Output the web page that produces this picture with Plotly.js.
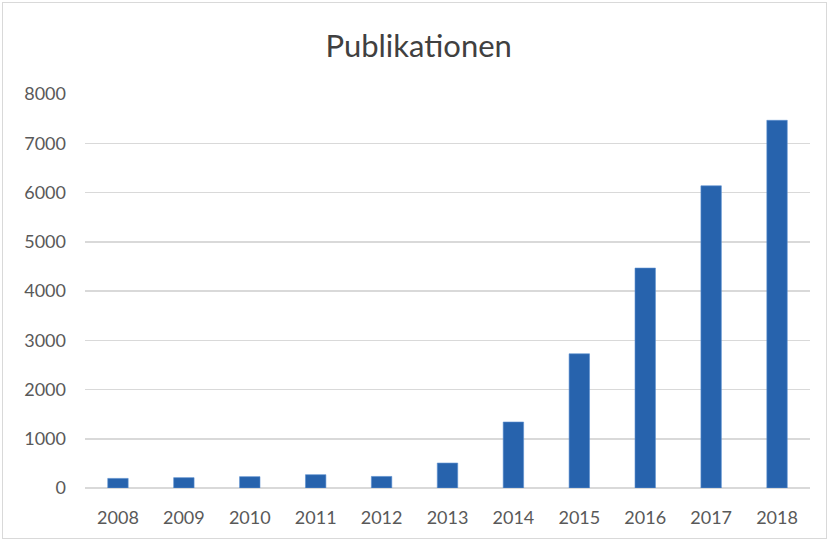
<!DOCTYPE html>
<html><head><meta charset="utf-8">
<script src="https://cdn.plot.ly/plotly-3.0.1.min.js"></script>
<style>html,body{margin:0;padding:0;background:#fff;}#wrap{position:relative;width:829px;height:540px;}#chart{width:829px;height:540px;}#frame{position:absolute;left:2px;top:2px;width:823px;height:535px;border:1px solid #d9d9d9;pointer-events:none;}</style>
</head><body><div id="wrap"><div id="chart"></div><div id="frame"></div></div>
<script>
const years = ['2008','2009','2010','2011','2012','2013','2014','2015','2016','2017','2018'];
const publications = [195, 210, 230, 270, 235, 507, 1340, 2725, 4466, 6136, 7466];
const yTicks = [0,1000,2000,3000,4000,5000,6000,7000,8000];

Plotly.newPlot('chart', [{
  type: 'bar', x: years, y: publications,
  marker: {color: '#2763ad', line: {color: '#5a8fd0', width: 0.6}},
  hoverinfo: 'x+y'
}], {
  width: 829, height: 540,
  margin: {l: 85, r: 19, t: 94, b: 52},
  paper_bgcolor: '#fff', plot_bgcolor: '#fff',
  bargap: 0.69,
  title: {text: 'Publikationen', x: 0.505, xanchor: 'center', y: 0.915, yanchor: 'middle',
          font: {family: 'Lato, "Open Sans", sans-serif', size: 31, color: '#404040'}},
  font: {family: 'Lato, "Open Sans", sans-serif', size: 18, color: '#595959'},
  xaxis: {type: 'category', showgrid: false, zeroline: false, showline: false, ticks: '',
          ticklabelstandoff: 17, tickfont: {size: 18, color: '#595959'}},
  yaxis: {range: [0, 8000], tickvals: yTicks, ticktext: yTicks.map(String), showgrid: true,
          gridcolor: '#d9d9d9', gridwidth: 1.5, zeroline: true, zerolinecolor: '#d9d9d9', zerolinewidth: 1.5,
          showline: false, ticks: '', ticklen: 0, ticklabelstandoff: 18, tickfont: {size: 18, color: '#595959'}},
  showlegend: false
}, {displayModeBar: false, staticPlot: true});
</script></body></html>
